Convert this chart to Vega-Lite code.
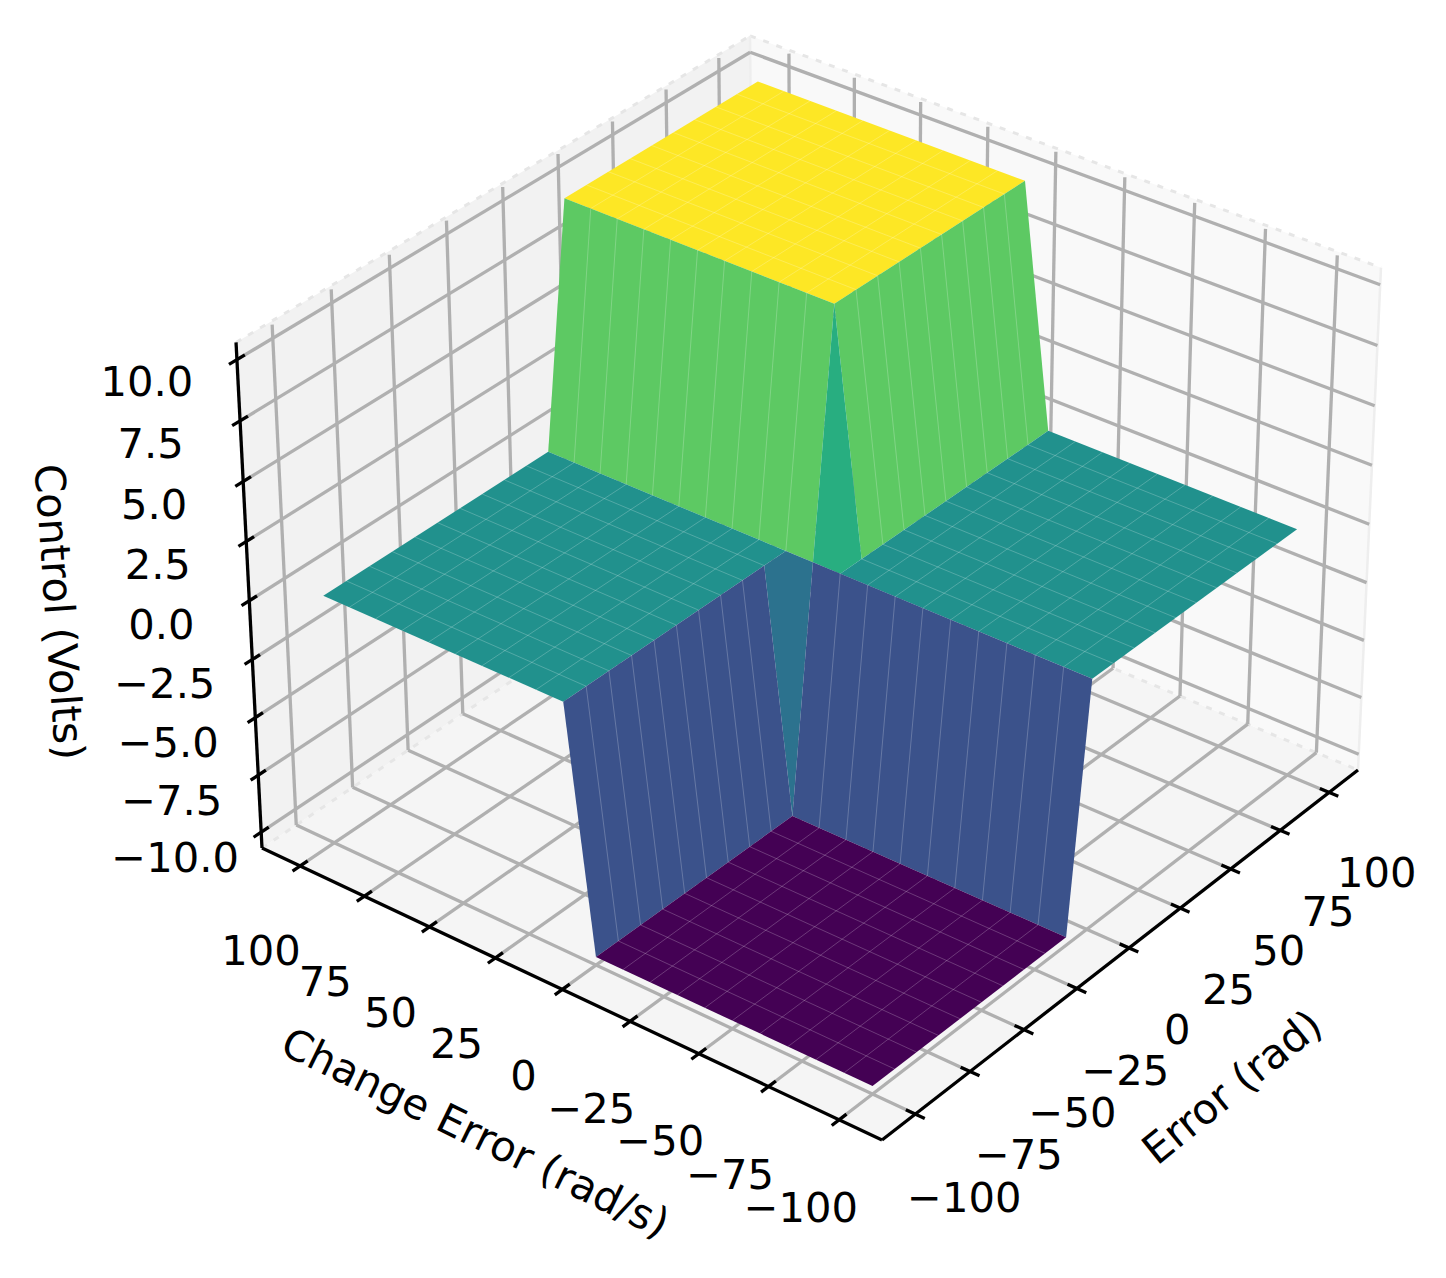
{"$schema":"https://vega.github.io/schema/vega-lite/v6.json","width":1446,"height":1278,"padding":0,"autosize":{"type":"fit","contains":"padding"},"background":"white","config":{"view":{"stroke":null},"text":{"font":"DejaVu Sans","fontSize":41.67,"fill":"black"}},
"data":{"values":[
{"element":"pane_floor","patch":"floor","vertex":1,"error":-115,"change_error":-115,"control":-10.7},{"element":"pane_floor","patch":"floor","vertex":2,"error":115,"change_error":-115,"control":-10.7},{"element":"pane_floor","patch":"floor","vertex":3,"error":115,"change_error":115,"control":-10.7},{"element":"pane_floor","patch":"floor","vertex":4,"error":-115,"change_error":115,"control":-10.7},
{"element":"pane_left","patch":"left","vertex":1,"error":-115,"change_error":115,"control":-10.7},{"element":"pane_left","patch":"left","vertex":2,"error":115,"change_error":115,"control":-10.7},{"element":"pane_left","patch":"left","vertex":3,"error":115,"change_error":115,"control":10.7},{"element":"pane_left","patch":"left","vertex":4,"error":-115,"change_error":115,"control":10.7},
{"element":"pane_right","patch":"right","vertex":1,"error":115,"change_error":-115,"control":-10.7},{"element":"pane_right","patch":"right","vertex":2,"error":115,"change_error":115,"control":-10.7},{"element":"pane_right","patch":"right","vertex":3,"error":115,"change_error":115,"control":10.7},{"element":"pane_right","patch":"right","vertex":4,"error":115,"change_error":-115,"control":10.7},

{"element":"edge","error":-115,"change_error":115,"control":10.7,"error2":115,"change_error2":115,"control2":10.7},{"element":"edge","error":115,"change_error":115,"control":10.7,"error2":115,"change_error2":-115,"control2":10.7},{"element":"edge","error":-115,"change_error":115,"control":-10.7,"error2":115,"change_error2":115,"control2":-10.7},{"element":"edge","error":115,"change_error":115,"control":-10.7,"error2":115,"change_error2":-115,"control2":-10.7},
{"element":"edge_solid","error":115,"change_error":115,"control":-10.7,"error2":115,"change_error2":115,"control2":10.7},{"element":"edge_solid","error":115,"change_error":-115,"control":-10.7,"error2":115,"change_error2":-115,"control2":10.7},

{"element":"grid","error":-100,"change_error":-115,"control":-10.7,"error2":-100,"change_error2":115,"control2":-10.7},{"element":"grid","error":-100,"change_error":115,"control":-10.7,"error2":-100,"change_error2":115,"control2":10.55},
{"element":"grid","error":-75,"change_error":-115,"control":-10.7,"error2":-75,"change_error2":115,"control2":-10.7},{"element":"grid","error":-75,"change_error":115,"control":-10.7,"error2":-75,"change_error2":115,"control2":10.55},
{"element":"grid","error":-50,"change_error":-115,"control":-10.7,"error2":-50,"change_error2":115,"control2":-10.7},{"element":"grid","error":-50,"change_error":115,"control":-10.7,"error2":-50,"change_error2":115,"control2":10.55},
{"element":"grid","error":-25,"change_error":-115,"control":-10.7,"error2":-25,"change_error2":115,"control2":-10.7},{"element":"grid","error":-25,"change_error":115,"control":-10.7,"error2":-25,"change_error2":115,"control2":10.55},
{"element":"grid","error":0,"change_error":-115,"control":-10.7,"error2":0,"change_error2":115,"control2":-10.7},{"element":"grid","error":0,"change_error":115,"control":-10.7,"error2":0,"change_error2":115,"control2":10.55},
{"element":"grid","error":25,"change_error":-115,"control":-10.7,"error2":25,"change_error2":115,"control2":-10.7},{"element":"grid","error":25,"change_error":115,"control":-10.7,"error2":25,"change_error2":115,"control2":10.55},
{"element":"grid","error":50,"change_error":-115,"control":-10.7,"error2":50,"change_error2":115,"control2":-10.7},{"element":"grid","error":50,"change_error":115,"control":-10.7,"error2":50,"change_error2":115,"control2":10.55},
{"element":"grid","error":75,"change_error":-115,"control":-10.7,"error2":75,"change_error2":115,"control2":-10.7},{"element":"grid","error":75,"change_error":115,"control":-10.7,"error2":75,"change_error2":115,"control2":10.55},
{"element":"grid","error":100,"change_error":-115,"control":-10.7,"error2":100,"change_error2":115,"control2":-10.7},{"element":"grid","error":100,"change_error":115,"control":-10.7,"error2":100,"change_error2":115,"control2":10.55},

{"element":"grid","error":-115,"change_error":-100,"control":-10.7,"error2":115,"change_error2":-100,"control2":-10.7},{"element":"grid","error":115,"change_error":-100,"control":-10.7,"error2":115,"change_error2":-100,"control2":10.55},
{"element":"grid","error":-115,"change_error":-75,"control":-10.7,"error2":115,"change_error2":-75,"control2":-10.7},{"element":"grid","error":115,"change_error":-75,"control":-10.7,"error2":115,"change_error2":-75,"control2":10.55},
{"element":"grid","error":-115,"change_error":-50,"control":-10.7,"error2":115,"change_error2":-50,"control2":-10.7},{"element":"grid","error":115,"change_error":-50,"control":-10.7,"error2":115,"change_error2":-50,"control2":10.55},
{"element":"grid","error":-115,"change_error":-25,"control":-10.7,"error2":115,"change_error2":-25,"control2":-10.7},{"element":"grid","error":115,"change_error":-25,"control":-10.7,"error2":115,"change_error2":-25,"control2":10.55},
{"element":"grid","error":-115,"change_error":0,"control":-10.7,"error2":115,"change_error2":0,"control2":-10.7},{"element":"grid","error":115,"change_error":0,"control":-10.7,"error2":115,"change_error2":0,"control2":10.55},
{"element":"grid","error":-115,"change_error":25,"control":-10.7,"error2":115,"change_error2":25,"control2":-10.7},{"element":"grid","error":115,"change_error":25,"control":-10.7,"error2":115,"change_error2":25,"control2":10.55},
{"element":"grid","error":-115,"change_error":50,"control":-10.7,"error2":115,"change_error2":50,"control2":-10.7},{"element":"grid","error":115,"change_error":50,"control":-10.7,"error2":115,"change_error2":50,"control2":10.55},
{"element":"grid","error":-115,"change_error":75,"control":-10.7,"error2":115,"change_error2":75,"control2":-10.7},{"element":"grid","error":115,"change_error":75,"control":-10.7,"error2":115,"change_error2":75,"control2":10.55},
{"element":"grid","error":-115,"change_error":100,"control":-10.7,"error2":115,"change_error2":100,"control2":-10.7},{"element":"grid","error":115,"change_error":100,"control":-10.7,"error2":115,"change_error2":100,"control2":10.55},

{"element":"grid","error":-115,"change_error":115,"control":-10,"error2":115,"change_error2":115,"control2":-10},{"element":"grid","error":115,"change_error":115,"control":-10,"error2":115,"change_error2":-115,"control2":-10},
{"element":"grid","error":-115,"change_error":115,"control":-7.5,"error2":115,"change_error2":115,"control2":-7.5},{"element":"grid","error":115,"change_error":115,"control":-7.5,"error2":115,"change_error2":-115,"control2":-7.5},
{"element":"grid","error":-115,"change_error":115,"control":-5,"error2":115,"change_error2":115,"control2":-5},{"element":"grid","error":115,"change_error":115,"control":-5,"error2":115,"change_error2":-115,"control2":-5},
{"element":"grid","error":-115,"change_error":115,"control":-2.5,"error2":115,"change_error2":115,"control2":-2.5},{"element":"grid","error":115,"change_error":115,"control":-2.5,"error2":115,"change_error2":-115,"control2":-2.5},
{"element":"grid","error":-115,"change_error":115,"control":0,"error2":115,"change_error2":115,"control2":0},{"element":"grid","error":115,"change_error":115,"control":0,"error2":115,"change_error2":-115,"control2":0},
{"element":"grid","error":-115,"change_error":115,"control":2.5,"error2":115,"change_error2":115,"control2":2.5},{"element":"grid","error":115,"change_error":115,"control":2.5,"error2":115,"change_error2":-115,"control2":2.5},
{"element":"grid","error":-115,"change_error":115,"control":5,"error2":115,"change_error2":115,"control2":5},{"element":"grid","error":115,"change_error":115,"control":5,"error2":115,"change_error2":-115,"control2":5},
{"element":"grid","error":-115,"change_error":115,"control":7.5,"error2":115,"change_error2":115,"control2":7.5},{"element":"grid","error":115,"change_error":115,"control":7.5,"error2":115,"change_error2":-115,"control2":7.5},
{"element":"grid","error":-115,"change_error":115,"control":10,"error2":115,"change_error2":115,"control2":10},{"element":"grid","error":115,"change_error":115,"control":10,"error2":115,"change_error2":-115,"control2":10},

{"element":"axis","error":-115,"change_error":-115,"control":-10.7,"error2":115,"change_error2":-115,"control2":-10.7},{"element":"axis","error":-115,"change_error":-115,"control":-10.7,"error2":-115,"change_error2":115,"control2":-10.7},{"element":"axis","error":-115,"change_error":115,"control":-10.7,"error2":-115,"change_error2":115,"control2":10.7},

{"element":"axis","error":-100,"change_error":-118.3,"control":-10.7,"error2":-100,"change_error2":-111.7,"control2":-10.7},{"element":"axis","error":-75,"change_error":-118.3,"control":-10.7,"error2":-75,"change_error2":-111.7,"control2":-10.7},{"element":"axis","error":-50,"change_error":-118.3,"control":-10.7,"error2":-50,"change_error2":-111.7,"control2":-10.7},{"element":"axis","error":-25,"change_error":-118.3,"control":-10.7,"error2":-25,"change_error2":-111.7,"control2":-10.7},{"element":"axis","error":0,"change_error":-118.3,"control":-10.7,"error2":0,"change_error2":-111.7,"control2":-10.7},{"element":"axis","error":25,"change_error":-118.3,"control":-10.7,"error2":25,"change_error2":-111.7,"control2":-10.7},{"element":"axis","error":50,"change_error":-118.3,"control":-10.7,"error2":50,"change_error2":-111.7,"control2":-10.7},{"element":"axis","error":75,"change_error":-118.3,"control":-10.7,"error2":75,"change_error2":-111.7,"control2":-10.7},{"element":"axis","error":100,"change_error":-118.3,"control":-10.7,"error2":100,"change_error2":-111.7,"control2":-10.7},

{"element":"axis","error":-118.3,"change_error":-100,"control":-10.7,"error2":-111.7,"change_error2":-100,"control2":-10.7},{"element":"axis","error":-118.3,"change_error":-75,"control":-10.7,"error2":-111.7,"change_error2":-75,"control2":-10.7},{"element":"axis","error":-118.3,"change_error":-50,"control":-10.7,"error2":-111.7,"change_error2":-50,"control2":-10.7},{"element":"axis","error":-118.3,"change_error":-25,"control":-10.7,"error2":-111.7,"change_error2":-25,"control2":-10.7},{"element":"axis","error":-118.3,"change_error":0,"control":-10.7,"error2":-111.7,"change_error2":0,"control2":-10.7},{"element":"axis","error":-118.3,"change_error":25,"control":-10.7,"error2":-111.7,"change_error2":25,"control2":-10.7},{"element":"axis","error":-118.3,"change_error":50,"control":-10.7,"error2":-111.7,"change_error2":50,"control2":-10.7},{"element":"axis","error":-118.3,"change_error":75,"control":-10.7,"error2":-111.7,"change_error2":75,"control2":-10.7},{"element":"axis","error":-118.3,"change_error":100,"control":-10.7,"error2":-111.7,"change_error2":100,"control2":-10.7},

{"element":"axis","error":-118.3,"change_error":115,"control":-10,"error2":-111.7,"change_error2":115,"control2":-10},{"element":"axis","error":-118.3,"change_error":115,"control":-7.5,"error2":-111.7,"change_error2":115,"control2":-7.5},{"element":"axis","error":-118.3,"change_error":115,"control":-5,"error2":-111.7,"change_error2":115,"control2":-5},{"element":"axis","error":-118.3,"change_error":115,"control":-2.5,"error2":-111.7,"change_error2":115,"control2":-2.5},{"element":"axis","error":-118.3,"change_error":115,"control":0,"error2":-111.7,"change_error2":115,"control2":0},{"element":"axis","error":-118.3,"change_error":115,"control":2.5,"error2":-111.7,"change_error2":115,"control2":2.5},{"element":"axis","error":-118.3,"change_error":115,"control":5,"error2":-111.7,"change_error2":115,"control2":5},{"element":"axis","error":-118.3,"change_error":115,"control":7.5,"error2":-111.7,"change_error2":115,"control2":7.5},{"element":"axis","error":-118.3,"change_error":115,"control":10,"error2":-111.7,"change_error2":115,"control2":10},

{"element":"patch","patch":"yellow","mean_control":10,"vertex":1,"error":10,"change_error":0,"control":10.17},{"element":"patch","patch":"yellow","mean_control":10,"vertex":2,"error":100,"change_error":0,"control":10.17},{"element":"patch","patch":"yellow","mean_control":10,"vertex":3,"error":100,"change_error":100,"control":10.17},{"element":"patch","patch":"yellow","mean_control":10,"vertex":4,"error":10,"change_error":100,"control":10.17},
{"element":"patch","patch":"green_left","mean_control":5,"vertex":1,"error":0,"change_error":0,"control":0},{"element":"patch","patch":"green_left","mean_control":5,"vertex":2,"error":0,"change_error":100,"control":0},{"element":"patch","patch":"green_left","mean_control":5,"vertex":3,"error":10,"change_error":100,"control":10.17},{"element":"patch","patch":"green_left","mean_control":5,"vertex":4,"error":10,"change_error":0,"control":10.17},
{"element":"patch","patch":"green_right","mean_control":5,"vertex":1,"error":10,"change_error":-10,"control":0},{"element":"patch","patch":"green_right","mean_control":5,"vertex":2,"error":100,"change_error":-10,"control":0},{"element":"patch","patch":"green_right","mean_control":5,"vertex":3,"error":100,"change_error":0,"control":10.17},{"element":"patch","patch":"green_right","mean_control":5,"vertex":4,"error":10,"change_error":0,"control":10.17},
{"element":"patch","patch":"center_up","mean_control":2.5,"vertex":1,"error":0,"change_error":0,"control":0},{"element":"patch","patch":"center_up","mean_control":2.5,"vertex":2,"error":10,"change_error":0,"control":10.17},{"element":"patch","patch":"center_up","mean_control":2.5,"vertex":3,"error":10,"change_error":-10,"control":0},{"element":"patch","patch":"center_up","mean_control":2.5,"vertex":4,"error":0,"change_error":-10,"control":0},
{"element":"patch","patch":"teal_left","mean_control":0,"vertex":1,"error":-100,"change_error":10,"control":0},{"element":"patch","patch":"teal_left","mean_control":0,"vertex":2,"error":0,"change_error":10,"control":0},{"element":"patch","patch":"teal_left","mean_control":0,"vertex":3,"error":0,"change_error":100,"control":0},{"element":"patch","patch":"teal_left","mean_control":0,"vertex":4,"error":-100,"change_error":100,"control":0},
{"element":"patch","patch":"teal_right","mean_control":0,"vertex":1,"error":0,"change_error":-100,"control":0},{"element":"patch","patch":"teal_right","mean_control":0,"vertex":2,"error":100,"change_error":-100,"control":0},{"element":"patch","patch":"teal_right","mean_control":0,"vertex":3,"error":100,"change_error":-10,"control":0},{"element":"patch","patch":"teal_right","mean_control":0,"vertex":4,"error":0,"change_error":-10,"control":0},
{"element":"patch","patch":"center_down","mean_control":-2.5,"vertex":1,"error":-10,"change_error":0,"control":-10.35},{"element":"patch","patch":"center_down","mean_control":-2.5,"vertex":2,"error":0,"change_error":0,"control":0},{"element":"patch","patch":"center_down","mean_control":-2.5,"vertex":3,"error":0,"change_error":10,"control":0},{"element":"patch","patch":"center_down","mean_control":-2.5,"vertex":4,"error":-10,"change_error":10,"control":0},
{"element":"patch","patch":"blue_left","mean_control":-5,"vertex":1,"error":-100,"change_error":0,"control":-10.35},{"element":"patch","patch":"blue_left","mean_control":-5,"vertex":2,"error":-10,"change_error":0,"control":-10.35},{"element":"patch","patch":"blue_left","mean_control":-5,"vertex":3,"error":-10,"change_error":10,"control":0},{"element":"patch","patch":"blue_left","mean_control":-5,"vertex":4,"error":-100,"change_error":10,"control":0},
{"element":"patch","patch":"blue_right","mean_control":-5,"vertex":1,"error":-10,"change_error":-100,"control":-10.35},{"element":"patch","patch":"blue_right","mean_control":-5,"vertex":2,"error":0,"change_error":-100,"control":0},{"element":"patch","patch":"blue_right","mean_control":-5,"vertex":3,"error":0,"change_error":0,"control":0},{"element":"patch","patch":"blue_right","mean_control":-5,"vertex":4,"error":-10,"change_error":0,"control":-10.35},
{"element":"patch","patch":"purple","mean_control":-10,"vertex":1,"error":-100,"change_error":-100,"control":-10.35},{"element":"patch","patch":"purple","mean_control":-10,"vertex":2,"error":-10,"change_error":-100,"control":-10.35},{"element":"patch","patch":"purple","mean_control":-10,"vertex":3,"error":-10,"change_error":0,"control":-10.35},{"element":"patch","patch":"purple","mean_control":-10,"vertex":4,"error":-100,"change_error":0,"control":-10.35},

{"element":"seam","error":20,"change_error":0,"control":10.17,"error2":20,"change_error2":100,"control2":10.17},{"element":"seam","error":30,"change_error":0,"control":10.17,"error2":30,"change_error2":100,"control2":10.17},{"element":"seam","error":40,"change_error":0,"control":10.17,"error2":40,"change_error2":100,"control2":10.17},{"element":"seam","error":50,"change_error":0,"control":10.17,"error2":50,"change_error2":100,"control2":10.17},{"element":"seam","error":60,"change_error":0,"control":10.17,"error2":60,"change_error2":100,"control2":10.17},{"element":"seam","error":70,"change_error":0,"control":10.17,"error2":70,"change_error2":100,"control2":10.17},{"element":"seam","error":80,"change_error":0,"control":10.17,"error2":80,"change_error2":100,"control2":10.17},{"element":"seam","error":90,"change_error":0,"control":10.17,"error2":90,"change_error2":100,"control2":10.17},
{"element":"seam","error":10,"change_error":10,"control":10.17,"error2":100,"change_error2":10,"control2":10.17},{"element":"seam","error":10,"change_error":20,"control":10.17,"error2":100,"change_error2":20,"control2":10.17},{"element":"seam","error":10,"change_error":30,"control":10.17,"error2":100,"change_error2":30,"control2":10.17},{"element":"seam","error":10,"change_error":40,"control":10.17,"error2":100,"change_error2":40,"control2":10.17},{"element":"seam","error":10,"change_error":50,"control":10.17,"error2":100,"change_error2":50,"control2":10.17},{"element":"seam","error":10,"change_error":60,"control":10.17,"error2":100,"change_error2":60,"control2":10.17},{"element":"seam","error":10,"change_error":70,"control":10.17,"error2":100,"change_error2":70,"control2":10.17},{"element":"seam","error":10,"change_error":80,"control":10.17,"error2":100,"change_error2":80,"control2":10.17},{"element":"seam","error":10,"change_error":90,"control":10.17,"error2":100,"change_error2":90,"control2":10.17},

{"element":"seam","error":0,"change_error":10,"control":0,"error2":10,"change_error2":10,"control2":10.17},{"element":"seam","error":0,"change_error":20,"control":0,"error2":10,"change_error2":20,"control2":10.17},{"element":"seam","error":0,"change_error":30,"control":0,"error2":10,"change_error2":30,"control2":10.17},{"element":"seam","error":0,"change_error":40,"control":0,"error2":10,"change_error2":40,"control2":10.17},{"element":"seam","error":0,"change_error":50,"control":0,"error2":10,"change_error2":50,"control2":10.17},{"element":"seam","error":0,"change_error":60,"control":0,"error2":10,"change_error2":60,"control2":10.17},{"element":"seam","error":0,"change_error":70,"control":0,"error2":10,"change_error2":70,"control2":10.17},{"element":"seam","error":0,"change_error":80,"control":0,"error2":10,"change_error2":80,"control2":10.17},{"element":"seam","error":0,"change_error":90,"control":0,"error2":10,"change_error2":90,"control2":10.17},

{"element":"seam","error":20,"change_error":-10,"control":0,"error2":20,"change_error2":0,"control2":10.17},{"element":"seam","error":30,"change_error":-10,"control":0,"error2":30,"change_error2":0,"control2":10.17},{"element":"seam","error":40,"change_error":-10,"control":0,"error2":40,"change_error2":0,"control2":10.17},{"element":"seam","error":50,"change_error":-10,"control":0,"error2":50,"change_error2":0,"control2":10.17},{"element":"seam","error":60,"change_error":-10,"control":0,"error2":60,"change_error2":0,"control2":10.17},{"element":"seam","error":70,"change_error":-10,"control":0,"error2":70,"change_error2":0,"control2":10.17},{"element":"seam","error":80,"change_error":-10,"control":0,"error2":80,"change_error2":0,"control2":10.17},{"element":"seam","error":90,"change_error":-10,"control":0,"error2":90,"change_error2":0,"control2":10.17},

{"element":"seam","error":-90,"change_error":10,"control":0,"error2":-90,"change_error2":100,"control2":0},{"element":"seam","error":-80,"change_error":10,"control":0,"error2":-80,"change_error2":100,"control2":0},{"element":"seam","error":-70,"change_error":10,"control":0,"error2":-70,"change_error2":100,"control2":0},{"element":"seam","error":-60,"change_error":10,"control":0,"error2":-60,"change_error2":100,"control2":0},{"element":"seam","error":-50,"change_error":10,"control":0,"error2":-50,"change_error2":100,"control2":0},{"element":"seam","error":-40,"change_error":10,"control":0,"error2":-40,"change_error2":100,"control2":0},{"element":"seam","error":-30,"change_error":10,"control":0,"error2":-30,"change_error2":100,"control2":0},{"element":"seam","error":-20,"change_error":10,"control":0,"error2":-20,"change_error2":100,"control2":0},{"element":"seam","error":-10,"change_error":10,"control":0,"error2":-10,"change_error2":100,"control2":0},
{"element":"seam","error":-100,"change_error":20,"control":0,"error2":0,"change_error2":20,"control2":0},{"element":"seam","error":-100,"change_error":30,"control":0,"error2":0,"change_error2":30,"control2":0},{"element":"seam","error":-100,"change_error":40,"control":0,"error2":0,"change_error2":40,"control2":0},{"element":"seam","error":-100,"change_error":50,"control":0,"error2":0,"change_error2":50,"control2":0},{"element":"seam","error":-100,"change_error":60,"control":0,"error2":0,"change_error2":60,"control2":0},{"element":"seam","error":-100,"change_error":70,"control":0,"error2":0,"change_error2":70,"control2":0},{"element":"seam","error":-100,"change_error":80,"control":0,"error2":0,"change_error2":80,"control2":0},{"element":"seam","error":-100,"change_error":90,"control":0,"error2":0,"change_error2":90,"control2":0},

{"element":"seam","error":10,"change_error":-100,"control":0,"error2":10,"change_error2":-10,"control2":0},{"element":"seam","error":20,"change_error":-100,"control":0,"error2":20,"change_error2":-10,"control2":0},{"element":"seam","error":30,"change_error":-100,"control":0,"error2":30,"change_error2":-10,"control2":0},{"element":"seam","error":40,"change_error":-100,"control":0,"error2":40,"change_error2":-10,"control2":0},{"element":"seam","error":50,"change_error":-100,"control":0,"error2":50,"change_error2":-10,"control2":0},{"element":"seam","error":60,"change_error":-100,"control":0,"error2":60,"change_error2":-10,"control2":0},{"element":"seam","error":70,"change_error":-100,"control":0,"error2":70,"change_error2":-10,"control2":0},{"element":"seam","error":80,"change_error":-100,"control":0,"error2":80,"change_error2":-10,"control2":0},{"element":"seam","error":90,"change_error":-100,"control":0,"error2":90,"change_error2":-10,"control2":0},
{"element":"seam","error":0,"change_error":-90,"control":0,"error2":100,"change_error2":-90,"control2":0},{"element":"seam","error":0,"change_error":-80,"control":0,"error2":100,"change_error2":-80,"control2":0},{"element":"seam","error":0,"change_error":-70,"control":0,"error2":100,"change_error2":-70,"control2":0},{"element":"seam","error":0,"change_error":-60,"control":0,"error2":100,"change_error2":-60,"control2":0},{"element":"seam","error":0,"change_error":-50,"control":0,"error2":100,"change_error2":-50,"control2":0},{"element":"seam","error":0,"change_error":-40,"control":0,"error2":100,"change_error2":-40,"control2":0},{"element":"seam","error":0,"change_error":-30,"control":0,"error2":100,"change_error2":-30,"control2":0},{"element":"seam","error":0,"change_error":-20,"control":0,"error2":100,"change_error2":-20,"control2":0},

{"element":"seam","error":-90,"change_error":0,"control":-10.35,"error2":-90,"change_error2":10,"control2":0},{"element":"seam","error":-80,"change_error":0,"control":-10.35,"error2":-80,"change_error2":10,"control2":0},{"element":"seam","error":-70,"change_error":0,"control":-10.35,"error2":-70,"change_error2":10,"control2":0},{"element":"seam","error":-60,"change_error":0,"control":-10.35,"error2":-60,"change_error2":10,"control2":0},{"element":"seam","error":-50,"change_error":0,"control":-10.35,"error2":-50,"change_error2":10,"control2":0},{"element":"seam","error":-40,"change_error":0,"control":-10.35,"error2":-40,"change_error2":10,"control2":0},{"element":"seam","error":-30,"change_error":0,"control":-10.35,"error2":-30,"change_error2":10,"control2":0},{"element":"seam","error":-20,"change_error":0,"control":-10.35,"error2":-20,"change_error2":10,"control2":0},

{"element":"seam","error":-10,"change_error":-90,"control":-10.35,"error2":0,"change_error2":-90,"control2":0},{"element":"seam","error":-10,"change_error":-80,"control":-10.35,"error2":0,"change_error2":-80,"control2":0},{"element":"seam","error":-10,"change_error":-70,"control":-10.35,"error2":0,"change_error2":-70,"control2":0},{"element":"seam","error":-10,"change_error":-60,"control":-10.35,"error2":0,"change_error2":-60,"control2":0},{"element":"seam","error":-10,"change_error":-50,"control":-10.35,"error2":0,"change_error2":-50,"control2":0},{"element":"seam","error":-10,"change_error":-40,"control":-10.35,"error2":0,"change_error2":-40,"control2":0},{"element":"seam","error":-10,"change_error":-30,"control":-10.35,"error2":0,"change_error2":-30,"control2":0},{"element":"seam","error":-10,"change_error":-20,"control":-10.35,"error2":0,"change_error2":-20,"control2":0},{"element":"seam","error":-10,"change_error":-10,"control":-10.35,"error2":0,"change_error2":-10,"control2":0},

{"element":"seam","error":-90,"change_error":-100,"control":-10.35,"error2":-90,"change_error2":0,"control2":-10.35},{"element":"seam","error":-80,"change_error":-100,"control":-10.35,"error2":-80,"change_error2":0,"control2":-10.35},{"element":"seam","error":-70,"change_error":-100,"control":-10.35,"error2":-70,"change_error2":0,"control2":-10.35},{"element":"seam","error":-60,"change_error":-100,"control":-10.35,"error2":-60,"change_error2":0,"control2":-10.35},{"element":"seam","error":-50,"change_error":-100,"control":-10.35,"error2":-50,"change_error2":0,"control2":-10.35},{"element":"seam","error":-40,"change_error":-100,"control":-10.35,"error2":-40,"change_error2":0,"control2":-10.35},{"element":"seam","error":-30,"change_error":-100,"control":-10.35,"error2":-30,"change_error2":0,"control2":-10.35},{"element":"seam","error":-20,"change_error":-100,"control":-10.35,"error2":-20,"change_error2":0,"control2":-10.35},
{"element":"seam","error":-100,"change_error":-90,"control":-10.35,"error2":-10,"change_error2":-90,"control2":-10.35},{"element":"seam","error":-100,"change_error":-80,"control":-10.35,"error2":-10,"change_error2":-80,"control2":-10.35},{"element":"seam","error":-100,"change_error":-70,"control":-10.35,"error2":-10,"change_error2":-70,"control2":-10.35},{"element":"seam","error":-100,"change_error":-60,"control":-10.35,"error2":-10,"change_error2":-60,"control2":-10.35},{"element":"seam","error":-100,"change_error":-50,"control":-10.35,"error2":-10,"change_error2":-50,"control2":-10.35},{"element":"seam","error":-100,"change_error":-40,"control":-10.35,"error2":-10,"change_error2":-40,"control2":-10.35},{"element":"seam","error":-100,"change_error":-30,"control":-10.35,"error2":-10,"change_error2":-30,"control2":-10.35},{"element":"seam","error":-100,"change_error":-20,"control":-10.35,"error2":-10,"change_error2":-20,"control2":-10.35},{"element":"seam","error":-100,"change_error":-10,"control":-10.35,"error2":-10,"change_error2":-10,"control2":-10.35},

{"element":"label_error","label":"−100","error":-100,"change_error":-132,"control":-10.7},{"element":"label_error","label":"−75","error":-75,"change_error":-132,"control":-10.7},{"element":"label_error","label":"−50","error":-50,"change_error":-132,"control":-10.7},{"element":"label_error","label":"−25","error":-25,"change_error":-132,"control":-10.7},{"element":"label_error","label":"0","error":0,"change_error":-132,"control":-10.7},{"element":"label_error","label":"25","error":25,"change_error":-132,"control":-10.7},{"element":"label_error","label":"50","error":50,"change_error":-132,"control":-10.7},{"element":"label_error","label":"75","error":75,"change_error":-132,"control":-10.7},{"element":"label_error","label":"100","error":100,"change_error":-132,"control":-10.7},

{"element":"label_change","label":"−100","error":-132,"change_error":-100,"control":-10.7},{"element":"label_change","label":"−75","error":-132,"change_error":-75,"control":-10.7},{"element":"label_change","label":"−50","error":-132,"change_error":-50,"control":-10.7},{"element":"label_change","label":"−25","error":-132,"change_error":-25,"control":-10.7},{"element":"label_change","label":"0","error":-132,"change_error":0,"control":-10.7},{"element":"label_change","label":"25","error":-132,"change_error":25,"control":-10.7},{"element":"label_change","label":"50","error":-132,"change_error":50,"control":-10.7},{"element":"label_change","label":"75","error":-132,"change_error":75,"control":-10.7},{"element":"label_change","label":"100","error":-132,"change_error":100,"control":-10.7},

{"element":"label_control","label":"−10.0","error":-152,"change_error":115,"control":-10},{"element":"label_control","label":"−7.5","error":-152,"change_error":115,"control":-7.5},{"element":"label_control","label":"−5.0","error":-152,"change_error":115,"control":-5},{"element":"label_control","label":"−2.5","error":-152,"change_error":115,"control":-2.5},{"element":"label_control","label":"0.0","error":-152,"change_error":115,"control":0},{"element":"label_control","label":"2.5","error":-152,"change_error":115,"control":2.5},{"element":"label_control","label":"5.0","error":-152,"change_error":115,"control":5},{"element":"label_control","label":"7.5","error":-152,"change_error":115,"control":7.5},{"element":"label_control","label":"10.0","error":-152,"change_error":115,"control":10},

{"element":"title_error","label":"Error (rad)","error":0,"change_error":-131.5,"control":-10.7},
{"element":"title_change","label":"Change Error (rad/s)","error":-136,"change_error":0,"control":-10.7},
{"element":"title_control","label":"Control (Volts)","error":-227,"change_error":115,"control":0}
]},
"transform":[
{"calculate":"(datum.error+115)/230","as":"a"},{"calculate":"(datum.change_error+115)/230","as":"b"},{"calculate":"(datum.control+10.7)/21.4","as":"c"},
{"calculate":"1+0.0785*datum.a+0.0647*datum.b-0.0458*datum.c","as":"w"},
{"calculate":"(882+582.6*datum.a-603.05*datum.b-38.45*datum.c)/datum.w","as":"screen_x"},
{"calculate":"(1140-309.6*datum.a-237.1*datum.b-554*datum.c)/datum.w","as":"screen_y"},
{"calculate":"(datum.error2+115)/230","as":"a2"},{"calculate":"(datum.change_error2+115)/230","as":"b2"},{"calculate":"(datum.control2+10.7)/21.4","as":"c2"},
{"calculate":"1+0.0785*datum.a2+0.0647*datum.b2-0.0458*datum.c2","as":"w2"},
{"calculate":"(882+582.6*datum.a2-603.05*datum.b2-38.45*datum.c2)/datum.w2","as":"screen_x2"},
{"calculate":"(1140-309.6*datum.a2-237.1*datum.b2-554*datum.c2)/datum.w2","as":"screen_y2"}
],
"encoding":{
"x":{"field":"screen_x","type":"quantitative","axis":null,"scale":{"domain":[0,1446],"nice":false,"zero":false}},
"y":{"field":"screen_y","type":"quantitative","axis":null,"scale":{"domain":[1278,0],"nice":false,"zero":false}}
},
"layer":[
{"transform":[{"filter":"datum.element==='pane_floor'"}],"mark":{"type":"line","filled":true,"fill":"#f5f5f5"},"encoding":{"order":{"field":"vertex","type":"quantitative"},"detail":{"field":"patch"}}},
{"transform":[{"filter":"datum.element==='pane_left'"}],"mark":{"type":"line","filled":true,"fill":"#f2f2f2"},"encoding":{"order":{"field":"vertex","type":"quantitative"},"detail":{"field":"patch"}}},
{"transform":[{"filter":"datum.element==='pane_right'"}],"mark":{"type":"line","filled":true,"fill":"#f9f9f9"},"encoding":{"order":{"field":"vertex","type":"quantitative"},"detail":{"field":"patch"}}},
{"transform":[{"filter":"datum.element==='edge'"}],"mark":{"type":"rule","color":"#e6e6e6","strokeWidth":3,"strokeDash":[6,8]},"encoding":{"x2":{"field":"screen_x2"},"y2":{"field":"screen_y2"}}},
{"transform":[{"filter":"datum.element==='edge_solid'"}],"mark":{"type":"rule","color":"#eeeeee","strokeWidth":2.5},"encoding":{"x2":{"field":"screen_x2"},"y2":{"field":"screen_y2"}}},
{"transform":[{"filter":"datum.element==='grid'"}],"mark":{"type":"rule","color":"#b0b0b0","strokeWidth":3.3},"encoding":{"x2":{"field":"screen_x2"},"y2":{"field":"screen_y2"}}},
{"transform":[{"filter":"datum.element==='axis'"}],"mark":{"type":"rule","color":"black","strokeWidth":3.3},"encoding":{"x2":{"field":"screen_x2"},"y2":{"field":"screen_y2"}}},
{"transform":[{"filter":"datum.element==='patch'"}],"mark":{"type":"line","filled":true},"encoding":{"order":{"field":"vertex","type":"quantitative"},"detail":{"field":"patch"},"color":{"field":"mean_control","type":"quantitative","legend":null,"scale":{"scheme":"viridis","domain":[-10,10]}}}},
{"transform":[{"filter":"datum.element==='seam'"}],"mark":{"type":"rule","color":"white","strokeWidth":1,"opacity":0.22},"encoding":{"x2":{"field":"screen_x2"},"y2":{"field":"screen_y2"}}},
{"transform":[{"filter":"datum.element==='label_error'"}],"mark":{"type":"text","dy":62},"encoding":{"text":{"field":"label"}}},
{"transform":[{"filter":"datum.element==='label_change'"}],"mark":{"type":"text","dy":60},"encoding":{"text":{"field":"label"}}},
{"transform":[{"filter":"datum.element==='label_control'"}],"mark":{"type":"text","dy":-30.6},"encoding":{"text":{"field":"label"}}},
{"transform":[{"filter":"datum.element==='title_error'"}],"mark":{"type":"text","dx":-30.7,"dy":128.6,"angle":321},"encoding":{"text":{"field":"label"}}},
{"transform":[{"filter":"datum.element==='title_change'"}],"mark":{"type":"text","dx":12.8,"dy":116.2,"angle":26},"encoding":{"text":{"field":"label"}}},
{"transform":[{"filter":"datum.element==='title_control'"}],"mark":{"type":"text","dx":-155.7,"dy":-92.9,"angle":86},"encoding":{"text":{"field":"label"}}}
]}
